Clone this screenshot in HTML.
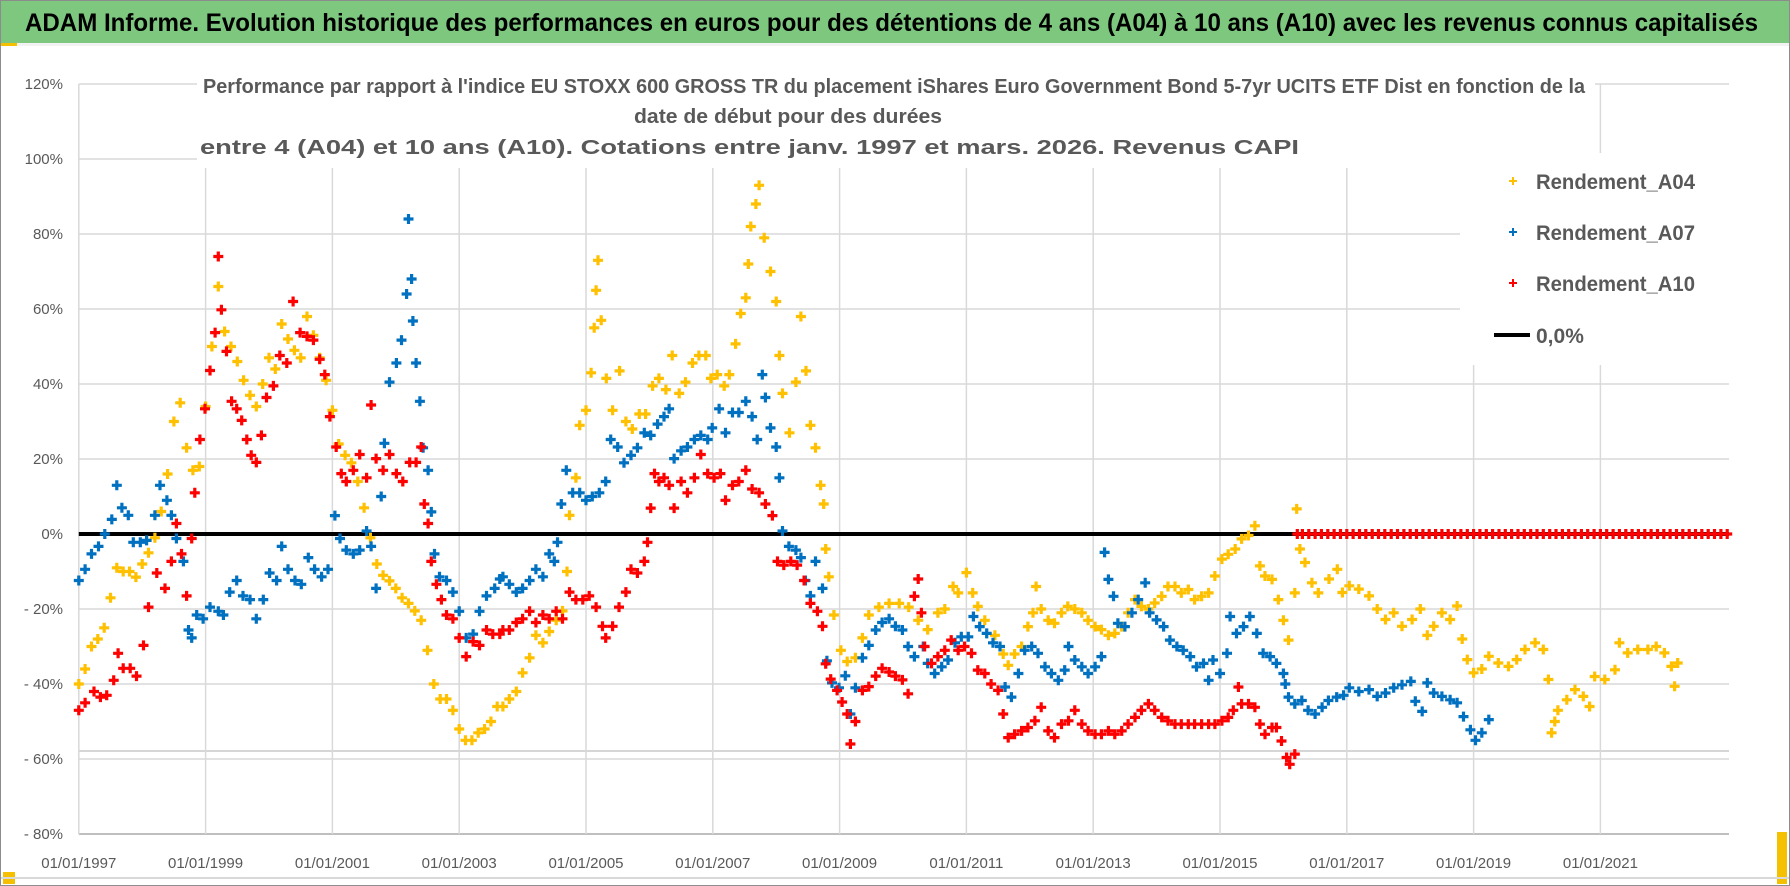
<!DOCTYPE html>
<html><head><meta charset="utf-8"><style>
html,body{margin:0;padding:0;background:#fff;}
svg{display:block;font-family:"Liberation Sans",sans-serif;}
</style></head><body>
<svg id="chart" width="1790" height="886" viewBox="0 0 1790 886" xmlns="http://www.w3.org/2000/svg">
<rect x="0" y="0" width="1790" height="886" fill="#ffffff"/>
<rect x="0.5" y="0.5" width="1789" height="885" fill="none" stroke="#8c8c8c"/>
<rect x="1" y="1" width="1788" height="42" fill="#7ec77f"/>
<rect x="1" y="43" width="1788" height="3" fill="#f2f2f2"/>
<rect x="1" y="43" width="16" height="3" fill="#f5c000"/>
<rect x="3" y="872" width="12" height="12" fill="#f5c000"/>
<rect x="1777" y="832" width="10" height="52" fill="#f5c000"/>
<rect x="1" y="877" width="1788" height="2" fill="#d9d9d9"/>
<text x="25" y="31" font-size="25" font-weight="bold" fill="#000" textLength="1733" lengthAdjust="spacingAndGlyphs">ADAM Informe. Evolution historique des performances en euros pour des détentions de 4 ans (A04) à 10 ans (A10) avec les revenus connus capitalisés</text>
<g id="grid"></g>
<g id="marks"></g>
<rect x="197" y="62" width="1398" height="106" fill="#fff"/>
<text x="203" y="93" font-size="20" font-weight="bold" fill="#595959" textLength="1382" lengthAdjust="spacingAndGlyphs">Performance par rapport à l'indice EU STOXX 600 GROSS TR  du placement iShares Euro Government Bond 5-7yr UCITS ETF Dist en fonction de la</text>
<text x="634" y="123" font-size="20" font-weight="bold" fill="#595959" textLength="308" lengthAdjust="spacingAndGlyphs">date de début pour des durées</text>
<text x="200" y="154" font-size="20" font-weight="bold" fill="#595959" textLength="1099" lengthAdjust="spacingAndGlyphs">entre 4 (A04) et 10 ans (A10). Cotations entre janv. 1997 et mars. 2026. Revenus CAPI</text>
<g>
<rect x="1460" y="153" width="280" height="212" fill="#fff"/>
<g>
<path d="M1509 181h8M1513 177v8" stroke="#ffc000" stroke-width="2"/>
<text x="1536" y="189" font-size="21" font-weight="bold" fill="#595959" textLength="159" lengthAdjust="spacingAndGlyphs">Rendement_A04</text></g>
<g>
<path d="M1509 232h8M1513 228v8" stroke="#0070c0" stroke-width="2"/>
<text x="1536" y="240" font-size="21" font-weight="bold" fill="#595959" textLength="159" lengthAdjust="spacingAndGlyphs">Rendement_A07</text></g>
<g>
<path d="M1509 283h8M1513 279v8" stroke="#ff0000" stroke-width="2"/>
<text x="1536" y="291" font-size="21" font-weight="bold" fill="#595959" textLength="159" lengthAdjust="spacingAndGlyphs">Rendement_A10</text></g>
<g>
<line x1="1494" y1="335" x2="1530" y2="335" stroke="#000" stroke-width="4"/>
<text x="1536" y="343" font-size="21" font-weight="bold" fill="#595959">0,0%</text></g>
</g>
</svg>
<script>
const yTicks=[120,100,80,60,40,20,0,-20,-40,-60,-80];
const xTickYears=[1997,1999,2001,2003,2005,2007,2009,2011,2013,2015,2017,2019,2021];
const a04Dates=[1997.0,1997.1,1997.2,1997.3,1997.4,1997.5,1997.6,1997.7,1997.8,1997.9,1998.0,1998.1,1998.2,1998.3,1998.4,1998.5,1998.6,1998.7,1998.8,1998.9,1999.0,1999.1,1999.2,1999.3,1999.4,1999.5,1999.6,1999.7,1999.8,1999.9,2000.0,2000.1,2000.2,2000.3,2000.4,2000.5,2000.6,2000.7,2000.8,2000.9,2001.0,2001.1,2001.2,2001.3,2001.4,2001.5,2001.6,2001.7,2001.8,2001.9,2002.0,2002.1,2002.2,2002.3,2002.4,2002.5,2002.6,2002.7,2002.8,2002.9,2003.0,2003.1,2003.2,2003.3,2003.4,2003.5,2003.6,2003.69,2003.79,2003.9,2004.0,2004.11,2004.21,2004.32,2004.42,2004.53,2004.63,2004.7,2004.74,2004.84,2004.9,2005.0,2005.08,2005.13,2005.16,2005.19,2005.24,2005.32,2005.42,2005.53,2005.63,2005.73,2005.84,2005.94,2006.05,2006.15,2006.26,2006.36,2006.47,2006.57,2006.68,2006.78,2006.89,2006.97,2007.07,2007.18,2007.26,2007.36,2007.44,2007.52,2007.56,2007.6,2007.68,2007.73,2007.81,2007.91,2008.0,2008.05,2008.1,2008.21,2008.31,2008.39,2008.47,2008.54,2008.62,2008.7,2008.75,2008.78,2008.83,2008.91,2009.02,2009.12,2009.25,2009.36,2009.46,2009.62,2009.78,2009.94,2010.09,2010.24,2010.39,2010.55,2010.66,2010.79,2010.87,2011.0,2011.1,2011.18,2011.29,2011.45,2011.58,2011.66,2011.76,2011.87,2011.97,2012.05,2012.1,2012.18,2012.29,2012.39,2012.5,2012.6,2012.71,2012.82,2012.92,2013.03,2013.13,2013.24,2013.34,2013.45,2013.55,2013.66,2013.76,2013.87,2013.97,2014.08,2014.18,2014.29,2014.39,2014.5,2014.6,2014.71,2014.82,2014.92,2015.03,2015.13,2015.24,2015.34,2015.45,2015.55,2015.63,2015.71,2015.82,2015.92,2016.0,2016.08,2016.18,2016.21,2016.26,2016.34,2016.45,2016.55,2016.72,2016.85,2016.93,2017.04,2017.19,2017.35,2017.48,2017.61,2017.74,2017.87,2018.03,2018.16,2018.27,2018.37,2018.5,2018.63,2018.74,2018.82,2018.9,2019.0,2019.13,2019.24,2019.39,2019.55,2019.68,2019.81,2019.97,2020.1,2020.18,2020.23,2020.28,2020.33,2020.47,2020.6,2020.73,2020.83,2020.91,2021.07,2021.23,2021.3,2021.43,2021.59,2021.75,2021.88,2022.01,2022.12,2022.17,2022.22];
const a04Values=[-40,-36,-30,-28,-25,-17,-9,-10,-10,-11.5,-8,-5,-1,6,16,30,35,23,17,18,34,50,66,54,50,46,41,37,34,40,47,44,56,52,49,47,58,53,47,41,33,24,21,19,14,7,-1,-8,-11,-12.5,-14.5,-17,-18.5,-20.5,-23,-31,-40,-44,-44,-47,-52,-55,-55,-53,-52,-50,-46,-46,-44,-42,-37,-33,-27,-29,-26,-23,-20.5,-10,5,15,29,33,43,55,65,73,57,41.5,33,43.5,30,28,32,32,39.5,41.5,38.5,47.6,37.5,40.5,45.6,47.6,47.6,41.5,42.5,39.5,42.5,50.7,58.8,63,72,82,88,93,79,70,62,47.6,37.5,27,40.5,58,43.5,29,23,13,8,-4,-11.4,-21.6,-31,-34,-33,-27.7,-21.6,-19.5,-18.5,-18.5,-19.5,-23,-25.5,-21,-20,-14,-15.7,-10.3,-15.7,-19.3,-23,-27,-32,-35,-32,-30,-24.7,-21,-14,-20,-23,-23.8,-21,-19.3,-20,-21,-23,-24.7,-25.5,-27,-26.5,-24.7,-21,-17.5,-19.3,-20,-18.4,-16.6,-14,-14,-15.7,-14.8,-17.5,-16.6,-15.7,-11.2,-6.7,-5.4,-4,-1.3,-0.4,2.2,-8.5,-11.2,-12.1,-17.5,-23,-28.3,-15.7,6.7,-4,-7.6,-13,-15.7,-12,-9.4,-15.6,-13.8,-14.7,-16.5,-20,-22.8,-21,-24.6,-22.8,-20,-27,-24.6,-21,-22.8,-19.2,-28,-33.5,-37,-36,-32.6,-34.4,-35.3,-33.5,-30.8,-29,-30.8,-38.8,-53,-50,-47,-44.2,-41.5,-43.3,-46,-38,-38.8,-36.2,-29,-31.7,-30.8,-30.8,-30,-31.7,-35.3,-40.6,-34.4];
const a07Dates=[1997.0,1997.1,1997.2,1997.31,1997.41,1997.52,1997.6,1997.68,1997.78,1997.86,1997.97,1998.07,1998.2,1998.28,1998.39,1998.46,1998.54,1998.65,1998.73,1998.78,1998.86,1998.96,1999.07,1999.2,1999.28,1999.38,1999.49,1999.59,1999.7,1999.8,1999.91,2000.01,2000.12,2000.2,2000.3,2000.41,2000.51,2000.62,2000.72,2000.83,2000.93,2001.04,2001.12,2001.22,2001.33,2001.43,2001.54,2001.61,2001.69,2001.77,2001.82,2001.9,2002.01,2002.09,2002.17,2002.2,2002.25,2002.27,2002.32,2002.38,2002.43,2002.51,2002.56,2002.61,2002.69,2002.8,2002.9,2003.0,2003.11,2003.22,2003.32,2003.43,2003.56,2003.64,2003.69,2003.79,2003.9,2004.0,2004.11,2004.21,2004.32,2004.42,2004.5,2004.55,2004.61,2004.69,2004.79,2004.9,2005.0,2005.1,2005.21,2005.31,2005.39,2005.5,2005.6,2005.71,2005.81,2005.92,2006.02,2006.13,2006.23,2006.31,2006.39,2006.5,2006.6,2006.71,2006.81,2006.92,2006.99,2007.1,2007.2,2007.31,2007.41,2007.52,2007.62,2007.7,2007.78,2007.83,2007.91,2008.0,2008.05,2008.1,2008.2,2008.31,2008.39,2008.46,2008.54,2008.62,2008.73,2008.8,2008.88,2008.99,2009.09,2009.17,2009.25,2009.36,2009.46,2009.57,2009.67,2009.78,2009.88,2009.99,2010.08,2010.18,2010.32,2010.39,2010.5,2010.61,2010.71,2010.82,2010.92,2011.03,2011.11,2011.21,2011.32,2011.42,2011.53,2011.61,2011.71,2011.82,2011.92,2012.03,2012.13,2012.24,2012.34,2012.45,2012.55,2012.61,2012.71,2012.82,2012.92,2013.03,2013.13,2013.18,2013.24,2013.32,2013.39,2013.5,2013.61,2013.71,2013.82,2013.89,2014.0,2014.11,2014.21,2014.32,2014.42,2014.53,2014.63,2014.74,2014.82,2014.89,2015.0,2015.11,2015.16,2015.26,2015.37,2015.47,2015.58,2015.68,2015.79,2015.89,2016.0,2016.03,2016.08,2016.18,2016.29,2016.39,2016.5,2016.61,2016.71,2016.84,2016.95,2017.04,2017.19,2017.35,2017.48,2017.61,2017.74,2017.87,2018.01,2018.08,2018.19,2018.27,2018.37,2018.5,2018.63,2018.74,2018.84,2018.95,2019.03,2019.13,2019.24];
const a07Values=[-12.4,-9.4,-5.3,-3.3,0,3.9,13,7,5,-2.2,-2.2,-1.7,5,13,9,5,-1.2,-7.3,-25.6,-27.7,-21.6,-22.6,-19.5,-20.6,-21.6,-15.5,-12.4,-16.5,-17.5,-22.6,-17.5,-10.4,-12.4,-3.3,-9.4,-12.4,-13.4,-6.3,-9.4,-11.4,-9.4,4.9,-1.2,-4.3,-5.3,-4.3,0.8,-3.3,-14.5,10,24.2,40.5,45.6,51.7,64,84,68,56.8,45.6,35.4,23,17,5.9,-5.3,-11.4,-12.4,-15.5,-20.6,-27.7,-26.7,-20.6,-16.5,-14.5,-12,-11.4,-13.4,-15.5,-14.5,-12.4,-9.4,-11.4,-5.3,-7.3,-2.2,8,17,11,11,9,10,11,14,25.2,23.2,19,21,23,27,26.3,29.3,31.3,33.4,20.1,22.2,23.2,25.2,26.3,25.2,28.3,33.4,27,32.4,32.4,35.4,31.3,25.2,42.5,36.4,28.3,23.2,15,0.8,-3.3,-4.3,-6.3,-12.4,-16.5,-7.3,-14.5,-33.8,-39.7,-41,-37.8,-48,-41,-33,-29.7,-25.6,-23.6,-22.6,-24.6,-25.6,-30,-32.7,-30,-34.5,-37.2,-35.4,-33.6,-29,-27.4,-27.4,-22,-24.7,-26.5,-29,-30,-40.8,-43.5,-37.2,-31,-30,-31.8,-35.4,-37.2,-39,-36.3,-30,-33.6,-35.4,-37.2,-35.4,-32.7,-4.9,-12.1,-16.6,-23.8,-24.7,-21,-17.5,-13,-21,-22.9,-24.7,-28.3,-30,-31,-32.7,-35.4,-34.5,-39,-33.6,-37.2,-31.8,-22,-26.5,-24.7,-22,-26.5,-31.8,-32.7,-34.5,-37.2,-40,-43.5,-45.3,-44.4,-47,-48,-46.2,-44.4,-43.5,-43,-41,-42,-41.5,-43.3,-42.4,-41,-40.2,-39.3,-44.6,-47.3,-39.7,-42.4,-43.3,-44.2,-45,-48.7,-52.2,-55,-53,-49.5];
const a10Dates=[1997.0,1997.1,1997.24,1997.34,1997.44,1997.55,1997.62,1997.7,1997.81,1997.91,1998.02,1998.1,1998.23,1998.36,1998.46,1998.54,1998.62,1998.7,1998.78,1998.83,1998.91,1998.99,1999.07,1999.15,1999.2,1999.25,1999.33,1999.41,1999.49,1999.57,1999.65,1999.72,1999.8,1999.88,1999.96,2000.07,2000.17,2000.28,2000.38,2000.49,2000.6,2000.7,2000.8,2000.88,2000.96,2001.06,2001.14,2001.22,2001.33,2001.43,2001.54,2001.61,2001.69,2001.8,2001.9,2002.01,2002.11,2002.22,2002.32,2002.4,2002.45,2002.51,2002.56,2002.64,2002.72,2002.8,2002.9,2003.0,2003.11,2003.22,2003.32,2003.43,2003.53,2003.64,2003.69,2003.79,2003.9,2004.0,2004.11,2004.21,2004.32,2004.42,2004.53,2004.63,2004.74,2004.84,2004.95,2005.05,2005.16,2005.26,2005.31,2005.42,2005.52,2005.63,2005.71,2005.81,2005.92,2005.97,2006.02,2006.08,2006.15,2006.23,2006.31,2006.39,2006.5,2006.6,2006.71,2006.81,2006.92,2007.02,2007.12,2007.2,2007.31,2007.41,2007.52,2007.62,2007.73,2007.83,2007.94,2008.02,2008.12,2008.23,2008.33,2008.44,2008.54,2008.65,2008.73,2008.78,2008.86,2008.96,2009.04,2009.12,2009.17,2009.25,2009.36,2009.46,2009.57,2009.67,2009.78,2009.88,2009.99,2010.08,2010.18,2010.24,2010.29,2010.34,2010.45,2010.55,2010.66,2010.76,2010.87,2010.97,2011.08,2011.18,2011.29,2011.39,2011.5,2011.58,2011.66,2011.76,2011.87,2011.97,2012.08,2012.18,2012.29,2012.39,2012.5,2012.61,2012.71,2012.82,2012.92,2013.03,2013.13,2013.24,2013.34,2013.45,2013.55,2013.66,2013.76,2013.87,2013.97,2014.08,2014.18,2014.29,2014.39,2014.5,2014.6,2014.71,2014.82,2014.92,2015.03,2015.13,2015.21,2015.29,2015.34,2015.45,2015.55,2015.63,2015.71,2015.82,2015.89,2015.97,2016.05,2016.1,2016.18,2016.22,2016.3,2016.4,2016.5,2016.6,2016.7,2016.8,2016.9,2017.0,2017.1,2017.2,2017.3,2017.4,2017.5,2017.6,2017.7,2017.8,2017.9,2018.0,2018.1,2018.2,2018.3,2018.4,2018.5,2018.6,2018.7,2018.8,2018.9,2019.0,2019.1,2019.2,2019.3,2019.4,2019.5,2019.6,2019.7,2019.8,2019.9,2020.0,2020.1,2020.2,2020.3,2020.4,2020.5,2020.6,2020.7,2020.8,2020.9,2021.0,2021.1,2021.2,2021.3,2021.4,2021.5,2021.6,2021.7,2021.8,2021.9,2022.0,2022.1,2022.2,2022.3,2022.4,2022.5,2022.6,2022.7,2022.8,2022.9,2023.0];
const a10Values=[-47,-45,-42,-43.5,-43,-39,-31.8,-35.8,-35.8,-37.9,-29.7,-19.5,-10.4,-14.5,-7.3,2.8,-5.3,-16.5,-1.2,11,25.2,33.4,43.6,53.7,74,59.8,48.7,35.4,33.4,30.3,25.2,21,19.1,26.3,36.4,39.5,47.6,45.6,62,53.7,52.7,51.7,46.6,42.5,31.3,23.2,16.1,14,17,21.2,15,34.4,20.1,17,21.2,16.1,14,19.1,19.1,23.2,8,2.8,-7.3,-13.4,-17.5,-21.6,-22.6,-27.7,-32.7,-28.7,-29.7,-25.6,-26.7,-26.7,-25.6,-25.6,-23.6,-22.6,-20.6,-23.6,-21.6,-22.6,-20.6,-22.6,-15.5,-17.5,-17.5,-16.5,-19.5,-24.6,-27.7,-24.6,-19.5,-15.5,-9.4,-10.4,-7.3,-2.2,6.9,16.1,14,15,13,6.9,14,11,15,21.2,16.1,15,16.1,9,13,14,17,12,11,8,4.9,-7.3,-8.3,-7.3,-8.3,-12.4,-18.5,-20.6,-24.6,-34.6,-38.7,-41.7,-44.8,-48,-56,-50,-41.7,-40.7,-37.9,-35.8,-36.8,-37.9,-38.9,-42.6,-16.6,-12,-21,-30,-34.5,-32.7,-31,-28.3,-31,-30,-31.8,-36.3,-37.2,-40,-41.7,-48,-54.3,-53.4,-52.5,-51.6,-49.8,-46.2,-52.5,-54.3,-50.7,-49.8,-47,-50.7,-52.5,-53.4,-53.4,-52.5,-53.4,-52.5,-50.7,-48.9,-47,-45.3,-47,-48.9,-49.8,-50.7,-50.7,-50.7,-50.7,-50.7,-50.7,-50.7,-49.8,-48.9,-47,-40.8,-45.3,-45.3,-46.2,-50.7,-53.4,-51.6,-51.6,-55.2,-59.6,-61.4,-58.7,0,0,0,0,0,0,0,0,0,0,0,0,0,0,0,0,0,0,0,0,0,0,0,0,0,0,0,0,0,0,0,0,0,0,0,0,0,0,0,0,0,0,0,0,0,0,0,0,0,0,0,0,0,0,0,0,0,0,0,0,0,0,0,0,0,0,0,0,0,0,0];
const NS="http://www.w3.org/2000/svg";
const X0=78.8,PX_PER_YEAR=63.4,Y0=534,PX_PER_PCT=3.75,XMAX=1729;
function xScale(yr){return X0+(yr-1997)*PX_PER_YEAR;}
function yScale(v){return Y0-v*PX_PER_PCT;}
function mk(tag,attrs,parent){const e=document.createElementNS(NS,tag);for(const k in attrs)e.setAttribute(k,attrs[k]);parent.appendChild(e);return e;}
const grid=document.getElementById('grid');
const marks=document.getElementById('marks');
yTicks.forEach(v=>{
  const y=yScale(v);
  const gl=mk('line',{x1:X0,x2:XMAX,y1:y,y2:y,stroke:v===-80?'#bfbfbf':'#d9d9d9','stroke-width':v===-80?2:1.5},grid);
  
  
  const t=mk('text',{x:63,y:y+5,'font-size':15,fill:'#595959','text-anchor':'end'},grid);
  t.textContent=v>0?v+'%':(v===0?'0%':'- '+Math.abs(v)+'%');
  
  
});
const extra=mk('line',{x1:X0,x2:XMAX,y1:751,y2:751,stroke:'#c8c8c8','stroke-width':1.5},grid);


xTickYears.forEach(yr=>{
  const x=xScale(yr);
  const vl=mk('line',{x1:x,x2:x,y1:yScale(120),y2:yScale(-80),stroke:'#d9d9d9','stroke-width':1.5},grid);
  
  
  const t=mk('text',{x:x,y:868,'font-size':15,fill:'#595959','text-anchor':'middle'},grid);
  t.textContent='01/01/'+yr;
  
  
});
const zl=mk('line',{x1:X0,x2:XMAX,y1:yScale(0),y2:yScale(0),stroke:'#000','stroke-width':4},grid);


function drawSeries(dates,vals,color,name){
  const g=mk('g',{},marks);
  
  
  let d='';
  for(let i=0;i<dates.length;i++){
    const x=xScale(dates[i]),y=yScale(vals[i]);
    d+='M'+(x-5).toFixed(1)+' '+y.toFixed(1)+'h10M'+x.toFixed(1)+' '+(y-5).toFixed(1)+'v10';
  }
  const p=mk('path',{d:d,stroke:color,'stroke-width':3.2,fill:'none'},g);
  
  
}
drawSeries(a04Dates,a04Values,'#ffc000','series-a04');
drawSeries(a07Dates,a07Values,'#0070c0','series-a07');
drawSeries(a10Dates,a10Values,'#ff0000','series-a10');
</script>
</body></html>
